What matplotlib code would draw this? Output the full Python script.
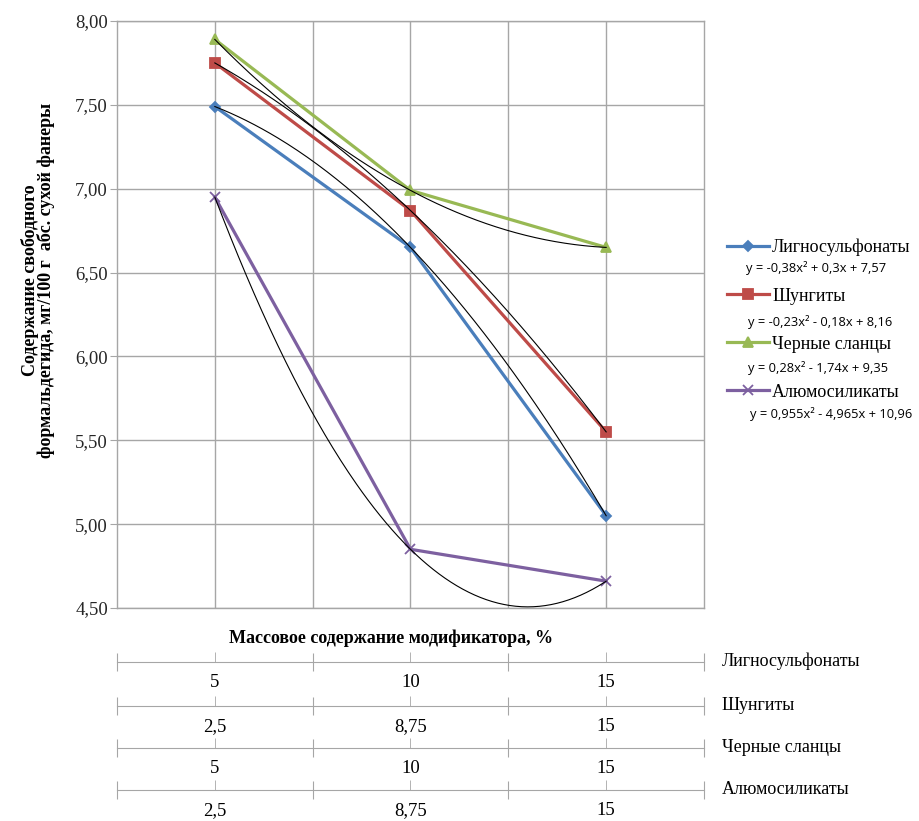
import numpy as np
import matplotlib
matplotlib.use('Agg')
import matplotlib.pyplot as plt

# данные (читаются с графика)
series = ['Лигносульфонаты', 'Шунгиты', 'Черные сланцы', 'Алюмосиликаты']
ligno = [7.49, 6.65, 5.05]
shung = [7.75, 6.87, 5.55]
slanc = [7.89, 6.99, 6.65]
alumo = [6.95, 4.85, 4.66]
equations = ['y = -0,38x² + 0,3x + 7,57',
             'y = -0,23x² - 0,18x + 8,16',
             'y = 0,28x² - 1,74x + 9,35',
             'y = 0,955x² - 4,965x + 10,96']
x_ligno = ['5', '10', '15']
x_shung = ['2,5', '8,75', '15']
x_slanc = ['5', '10', '15']
x_alumo = ['2,5', '8,75', '15']
y_ticks = [4.5, 5.0, 5.5, 6.0, 6.5, 7.0, 7.5, 8.0]

colors = ['#4A7EBB', '#BE4B48', '#98B954', '#7D60A0']
markers = ['D', 's', '^', 'x']
msizes = [5, 7, 7, 7]
SERIF = 'Liberation Serif'
GRAY = '#A6A6A6'

W, H = 920, 821


def fx(x):
    return x / W


def fy(y):
    return 1 - y / H


fig = plt.figure(figsize=(9.2, 8.21), dpi=100)
left, right, top, bottom = 117, 704, 21, 608
ax = fig.add_axes([fx(left), fy(bottom), (right - left) / W, (bottom - top) / H])

cat = np.arange(1, 4)
data = [ligno, shung, slanc, alumo]
handles = []
for vals, c, m, ms, name in zip(data, colors, markers, msizes, series):
    h, = ax.plot(cat, vals, color=c, lw=2.3, marker=m, ms=ms, mew=1.3,
                 mfc=c, mec=c, label=name, zorder=3)
    handles.append(h)
    # полиномиальная линия тренда 2-й степени
    coef = np.polyfit(cat, vals, 2)
    xs = np.linspace(1, 3, 200)
    ax.plot(xs, np.polyval(coef, xs), color='black', lw=0.8, zorder=4)

ax.set_xlim(0.5, 3.5)
ax.set_ylim(4.5, 8.0)
ax.set_xticks([1, 1.5, 2, 2.5, 3])
ax.set_yticks(y_ticks)
ax.set_yticklabels([f'{v:.2f}'.replace('.', ',') for v in y_ticks],
                   fontfamily=SERIF, fontsize=13.5, color='#262626')
ax.tick_params(axis='x', bottom=False, labelbottom=False)
ax.tick_params(axis='y', direction='out', length=5, color=GRAY, pad=1.5)
ax.grid(True, color=GRAY, lw=1)
ax.set_axisbelow(True)
for s in ax.spines.values():
    s.set_color(GRAY)
    s.set_linewidth(1)

fig.text(fx(38), fy(280),
         'Содержание свободного\nформальдегида, мг/100 г  абс. сухой фанеры',
         rotation=90, ha='center', va='center', fontfamily=SERIF,
         fontsize=13, fontweight='bold', linespacing=0.9)

fig.text(fx(391), fy(638), 'Массовое содержание модификатора, %',
         ha='center', va='center', fontfamily=SERIF, fontsize=13,
         fontweight='bold')

# нижние оси категорий
rows = [x_ligno, x_shung, x_slanc, x_alumo]
row_y = [662, 706, 748, 790]
for labels, yy, name in zip(rows, row_y, series):
    a = fig.add_axes([fx(left), fy(yy), (right - left) / W, 0.0001])
    a.set_xlim(0.5, 3.5)
    a.set_ylim(0, 1)
    for k in ['top', 'left', 'right']:
        a.spines[k].set_visible(False)
    a.spines['bottom'].set_color(GRAY)
    a.set_yticks([])
    a.set_xticks([0.5, 1.5, 2.5, 3.5])
    a.set_xticklabels([])
    a.set_xticks([1, 2, 3], minor=True)
    a.set_xticklabels(labels, minor=True, fontfamily=SERIF, fontsize=13.5)
    a.tick_params(axis='x', which='major', direction='inout', length=13,
                  color=GRAY)
    a.tick_params(axis='x', which='minor', direction='in', length=7,
                  color=GRAY, pad=8.5)
    a.patch.set_visible(False)
    fig.text(fx(722), fy(yy - 1), name, ha='left', va='center',
             fontfamily=SERIF, fontsize=13)

# легенда
leg = fig.legend(handles=handles, loc='upper left',
                 bbox_to_anchor=(fx(727), fy(239)), frameon=False,
                 prop={'family': SERIF, 'size': 13}, handlelength=2.3,
                 handletextpad=0.2, labelspacing=1.72, borderpad=0,
                 borderaxespad=0)
eq_y = [268, 322, 368, 414]
eq_x = [746, 748, 748, 750]
for t, xx, yy in zip(equations, eq_x, eq_y):
    fig.text(fx(xx), fy(yy), t, ha='left', va='center',
             fontfamily='Open Sans', fontsize=9.3)

fig.savefig('out.png', dpi=100)
